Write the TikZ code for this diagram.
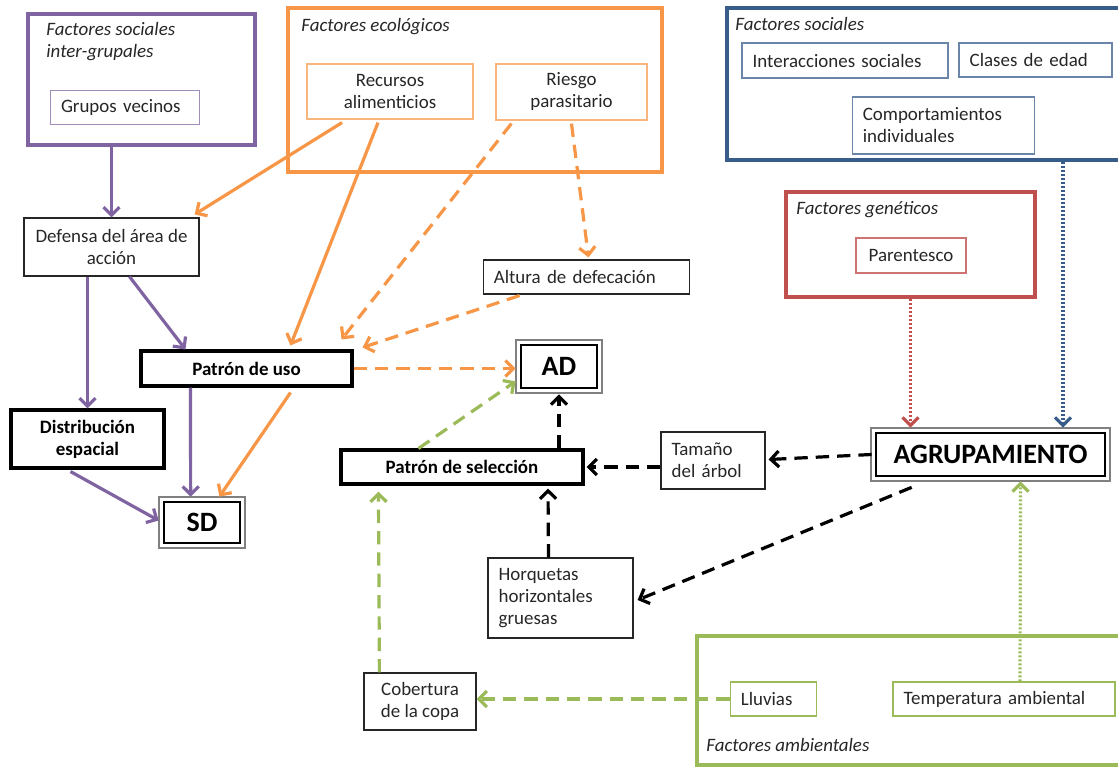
\documentclass[tikz,border=0pt]{standalone}
\usepackage{fontspec}
\setmainfont{Carlito}
\usetikzlibrary{arrows.meta, positioning, fit, calc}
\definecolor{fsPurple}{HTML}{8064A2}
\definecolor{fsOrange}{HTML}{F79646}
\definecolor{fsBlue}{HTML}{385D8A}
\definecolor{fsRed}{HTML}{C0504D}
\definecolor{fsGreen}{HTML}{9BBB59}
\definecolor{fsText}{HTML}{262626}
\tikzset{
  frame/.style={draw, line width=2.8pt, inner sep=0pt},
  flabel/.style={font=\fontsize{14.2}{16}\selectfont\itshape, anchor=base west,
    inner sep=0pt, align=left, text=fsText},
  ibox/.style={draw, line width=0.9pt, inner sep=6pt, align=center,
    font=\fontsize{14.2}{16.5}\selectfont, text=fsText},
  lbox/.style={ibox, align=left, inner xsep=8pt},
  bbox/.style={draw=black, line width=2.3pt, inner sep=4pt, align=center,
    font=\fontsize{14.2}{16.5}\selectfont\bfseries},
  dbox/.style={draw=black, line width=2pt, inner sep=2pt,
    font=\fontsize{21}{24}\selectfont\bfseries,
    append after command={\pgfextra{\draw[draw=black!50, line width=1.1pt]
      ([shift={(-2.6pt,-2.6pt)}]\tikzlastnode.south west) rectangle
      ([shift={(2.6pt,2.6pt)}]\tikzlastnode.north east);}}},
  link/.style={-{Straight Barb[length=6pt,width=12pt]}, line width=2.4pt},
  dashlink/.style={link, dash pattern=on 10pt off 6pt},
  dotlink/.style={link, dash pattern=on 1.6pt off 1.4pt}
}
\begin{document}
\begin{tikzpicture}[x=0.75pt, y=-0.75pt]
  \clip (0,0) rectangle (1118,767);
  % factor groups
  \node[frame, draw=fsPurple, fit={(28,14) (255,145)}] (fsi) {};
  \node[frame, draw=fsOrange, fit={(288,8) (662,172)}] (feco) {};
  \node[frame, draw=fsBlue, fit={(727,8) (1128,160)}] (fsoc) {};
  \node[frame, draw=fsRed, fit={(786,192) (1035,297)}] (fgen) {};
  \node[frame, draw=fsGreen, fit={(697,636) (1128,765)}] (famb) {};
  \node[flabel] (fsi-t) at ($(fsi.north west)+(20,45)$) {Factores sociales\\inter-grupales};
  \node[flabel] (feco-t) at ($(feco.north west)+(15,25)$) {Factores ecológicos};
  \node[flabel] (fsoc-t) at ($(fsoc.north west)+(10,24)$) {Factores sociales};
  \node[flabel] (fgen-t) at ($(fgen.north west)+(12,24)$) {Factores genéticos};
  \node[flabel] (famb-t) at ($(famb.south west)+(11,-15)$) {Factores ambientales};

  % factors
  \node[lbox, draw=fsPurple!75, text width=96pt, minimum height=26pt] (gru) at (125,107.5) {Grupos vecinos};
  \node[ibox, draw=fsOrange!70, minimum width=124.5pt, minimum height=41.25pt] (rec) at (390,91.5) {Recursos\\alimenticios};
  \node[ibox, draw=fsOrange!70, minimum width=113.25pt, minimum height=42pt] (rie) at (571.5,92) {Riesgo\\parasitario};
  \node[lbox, draw=fsBlue!75, text width=138.5pt, minimum height=26.25pt] (int) at (845,60.5) {Interacciones sociales};
  \node[lbox, draw=fsBlue!75, text width=98.75pt, minimum height=25.5pt] (cla) at (1035.5,60) {Clases de edad};
  \node[lbox, draw=fsBlue!75, text width=121pt, minimum height=42.75pt] (com) at (943.5,125.5) {Comportamientos\\individuales};
  \node[ibox, draw=fsRed!80, minimum width=82.5pt, minimum height=26.25pt] (par) at (911,255.5) {Parentesco};
  \node[lbox, draw=fsGreen, text width=49pt, minimum height=25.5pt] (llu) at (773.5,699) {Lluvias};
  \node[lbox, draw=fsGreen, text width=150.5pt, minimum height=25.5pt] (tem) at (1004,699) {Temperatura ambiental};

  % variables
  \node[ibox, draw=black!85, minimum width=131.25pt, minimum height=43.5pt] (def) at (111.5,247) {Defensa del área de\\acción};
  \node[lbox, draw=black!85, text width=139pt, minimum height=25.5pt] (alt) at (586.5,277) {Altura de defecación};
  \node[bbox, minimum width=158.25pt, minimum height=26.25pt] (uso) at (246.5,368.5) {Patrón de uso};
  \node[bbox, minimum width=114.75pt, minimum height=43.5pt] (dist) at (87.5,439) {Distribución\\espacial};
  \node[dbox, minimum width=57pt, minimum height=30.75pt] (sd) at (202,522.5) {SD};
  \node[dbox, minimum width=57pt, minimum height=32.25pt] (ad) at (559,366.5) {AD};
  \node[bbox, minimum width=181.5pt, minimum height=25.5pt] (sel) at (462,467) {Patrón de selección};
  \node[lbox, draw=black!85, text width=62pt, minimum height=42.75pt] (tam) at (713,460.5) {Tamaño\\del árbol};
  \node[dbox, minimum width=171.75pt, minimum height=32.25pt] (agr) at (990.5,454.5) {AGRUPAMIENTO};
  \node[lbox, draw=black!85, text width=92.75pt, minimum height=60pt] (hor) at (560.5,598) {Horquetas\\horizontales\\gruesas};
  \node[ibox, draw=black!85, minimum width=84pt, minimum height=42.75pt] (cob) at (420,701.5) {Cobertura\\de la copa};

  % purple links
  \draw[link, fsPurple] (fsi.south -| def.north) -- (def.north);
  \draw[link, fsPurple] (def.south -| dist.north) -- (dist.north);
  \draw[link, fsPurple] ($(def.south)+(18,0)$) -- ($(uso.north west)+(46,0)$);
  \draw[link, fsPurple] ($(uso.south west)+(51,0)$) -- ($(sd.north west)+(28,-4)$);
  \draw[link, fsPurple] ($(dist.south)+(-17,2)$) -- ($(sd.west)+(-4,-2)$);
  % orange links
  \draw[link, fsOrange] ($(rec.south)+(-48,3)$) -- ($(def.north east)+(-5,-3)$);
  \draw[link, fsOrange] ($(rec.south)+(-12,3)$) -- ($(uso.north)+(44,-4)$);
  \draw[link, fsOrange] ($(uso.south)+(44,5)$) -- ($(sd.north east)+(-22,-4)$);
  \draw[dashlink, fsOrange] ($(rie.south west)+(16,3)$) -- ($(uso.north east)+(-12,-10)$);
  \draw[dashlink, fsOrange] ($(rie.south)+(0,3)$) -- ($(alt.north)+(2,-2)$);
  \draw[dashlink, fsOrange] ($(alt.south west)+(37,1)$) -- ($(uso.north east)+(9,-2)$);
  \draw[dashlink, fsOrange] (uso.east) -- ($(uso.east -| ad.west)+(-4,0)$);
  % green links
  \draw[dashlink, fsGreen] ($(sel.north west)+(79,0)$) -- ($(ad.south west)+(-4,-8)$);
  \draw[dashlink, fsGreen] ($(cob.north west)+(16,0)$) -- ($(sel.south west)+(39,6)$);
  \draw[dashlink, fsGreen] (llu.west) -- (llu.west -| cob.east);
  \draw[dotlink, fsGreen] ($(tem.north)+(16,0)$) -- ($(agr.south)+(30,4)$);
  % black links
  \draw[dashlink] (ad.south |- sel.north) -- ($(ad.south)+(0,5)$);
  \draw[dashlink] (sel.east -| tam.west) -- ($(sel.east)+(2,0)$);
  \draw[dashlink] ($(agr.west)+(-3,0)$) -- ($(tam.east)+(3,-1)$);
  \draw[dashlink] ($(agr.south west)+(37,10)$) -- ($(hor.east)+(4,2)$);
  \draw[dashlink] ($(hor.north)+(-12,0)$) -- ($(sel.south)+(86,3)$);
  % dotted links into AGRUPAMIENTO
  \draw[dotlink, fsRed] (fgen.south) -- ($(fgen.south |- agr.north)+(0,-4)$);
  \draw[dotlink, fsBlue] ($(fsoc.south)+(135.5,0)$) -- ($(agr.north)+(72.5,-4)$);
\end{tikzpicture}
\end{document}
